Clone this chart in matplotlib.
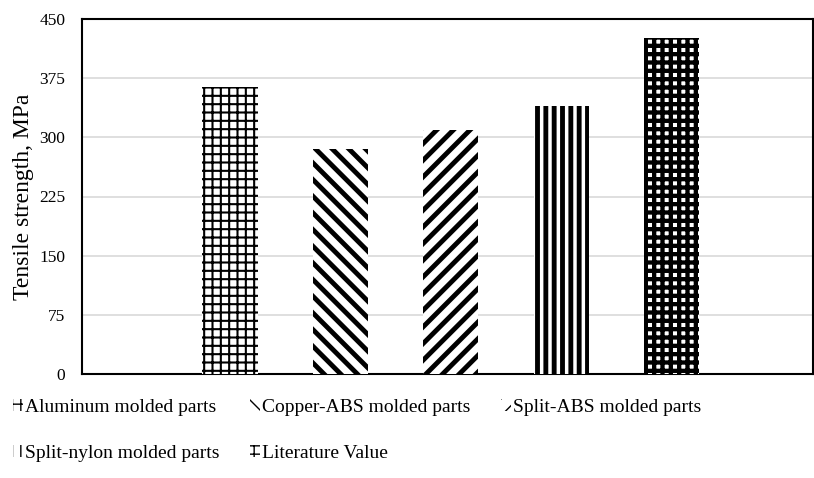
import numpy as np
import matplotlib
matplotlib.use("Agg")
import matplotlib.pyplot as plt

plt.rcParams['font.family'] = ['Liberation Serif', 'DejaVu Serif']

# data
labels = ['Aluminum molded parts', 'Copper-ABS molded parts', 'Split-ABS molded parts',
          'Split-nylon molded parts', 'Literature Value']
values = [364, 285, 309, 340, 426]
hatches = ['++', '\\\\', '//', '||', '++']
hatch_lw = [1.5, 3.5, 3.5, 3.5, 3.1]
yticks = [0, 75, 150, 225, 300, 375, 450]

fig = plt.figure(figsize=(8.14, 4.78), dpi=100)
ax = fig.add_axes([82/814, 1 - 374/478, (813 - 82)/814, (374 - 19)/478])

x = np.arange(len(values))
bars = []
for i, (lab, v, h, lw) in enumerate(zip(labels, values, hatches, hatch_lw)):
    with plt.rc_context({'hatch.linewidth': lw}):
        b = ax.bar(x[i], v, width=0.5, color='white', edgecolor='black',
                   linewidth=0, hatch=h, label=lab, zorder=3)
    for p in b:
        if hasattr(p, 'set_hatch_linewidth'):
            p.set_hatch_linewidth(lw)
    bars.append(b)

ax.set_xlim(-1.34, 4 + 1.28)
ax.set_ylim(0, 450)
ax.set_yticks(yticks)
ax.set_yticklabels([str(t) for t in yticks], fontsize=12.5)
ax.tick_params(axis='y', length=0, pad=12)
ax.set_xticks([])
ax.yaxis.grid(True, color='#d9d9d9', linewidth=1.2, zorder=0)
ax.set_axisbelow(True)
for s in ax.spines.values():
    s.set_color('black')
    s.set_linewidth(1.5)
ax.set_ylabel('Tensile strength, MPa', fontsize=17, labelpad=4)

# legend in rows: reorder so matplotlib's column filling reads row-wise
order = [0, 3, 1, 4, 2]
handles = [bars[i] for i in order]
leg_labels = [labels[i] for i in order]
fig.legend(handles, leg_labels, loc='upper left', bbox_to_anchor=(13/814, 1 - 399/478),
           ncol=3, frameon=False, fontsize=14, handlelength=0.5, handleheight=0.55,
           handletextpad=0.1, columnspacing=1.6, labelspacing=1.5, borderpad=0,
           borderaxespad=0)

fig.savefig('out.png', dpi=100)
